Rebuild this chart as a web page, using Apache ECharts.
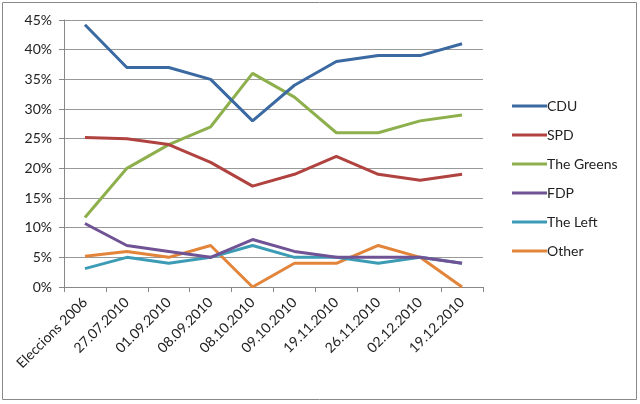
<!DOCTYPE html>
<html>
<head>
<meta charset="utf-8">
<script src="https://cdn.jsdelivr.net/npm/echarts@6/dist/echarts.min.js"></script>
<style>
  html, body { margin: 0; padding: 0; background: #fff; }
  #chart { width: 640px; height: 404px; }
</style>
</head>
<body>
<div id="chart"></div>
<script>
var categories = ['Eleccions 2006', '27.07.2010', '01.09.2010', '08.09.2010', '08.10.2010',
                  '09.10.2010', '19.11.2010', '26.11.2010', '02.12.2010', '19.12.2010'];
var cdu    = [44.2, 37, 37, 35, 28, 34, 38, 39, 39, 41];
var spd    = [25.2, 25, 24, 21, 17, 19, 22, 19, 18, 19];
var greens = [11.7, 20, 24, 27, 36, 32, 26, 26, 28, 29];
var fdp    = [10.7, 7, 6, 5, 8, 6, 5, 5, 5, 4];
var left   = [3.1, 5, 4, 5, 7, 5, 5, 4, 5, 4];
var other  = [5.2, 6, 5, 7, 0, 4, 4, 7, 5, 0];

var names = ['CDU', 'SPD', 'The Greens', 'FDP', 'The Left', 'Other'];
var values = [cdu, spd, greens, fdp, left, other];
var colors = ['#3B69A2', '#B0433F', '#8DAF4C', '#6F5394', '#3D9CB5', '#E2853B'];

var font = 'Lato, "Open Sans", sans-serif';

var series = [];
for (var i = 0; i < names.length; i++) {
    series.push({
        name: names[i],
        type: 'line',
        symbol: 'none',
        data: values[i],
        lineStyle: { width: 3, color: colors[i] },
        itemStyle: { color: colors[i] },
        z: 10 - i
    });
}

var chart = echarts.init(document.getElementById('chart'), null, { renderer: 'canvas' });
chart.setOption({
    animation: false,
    color: colors,
    graphic: [{
        type: 'rect',
        shape: { x: 2.5, y: 2.5, width: 634, height: 397 },
        style: { fill: 'none', stroke: '#888', lineWidth: 1 }
    }],
    grid: { left: 64, right: 157, top: 20, bottom: 117 },
    legend: {
        orient: 'vertical',
        left: 507,
        top: 93,
        itemGap: 13,
        itemWidth: 35,
        itemHeight: 3,
        icon: 'rect',
        data: names,
        textStyle: { fontFamily: font, fontSize: 14, lineHeight: 16, color: '#222', padding: [0, 0, 0, -5] }
    },
    xAxis: {
        type: 'category',
        data: categories,
        boundaryGap: true,
        axisLine: { lineStyle: { color: '#888' } },
        axisTick: { show: true, length: 5, lineStyle: { color: '#888' } },
        axisLabel: {
            rotate: 45,
            interval: 0,
            margin: 13,
            fontFamily: font,
            fontSize: 14,
            color: '#222'
        }
    },
    yAxis: {
        type: 'value',
        min: 0,
        max: 45,
        interval: 5,
        axisLine: { show: true, lineStyle: { color: '#888' } },
        axisTick: { show: true, length: 5, lineStyle: { color: '#888' } },
        splitLine: { lineStyle: { color: '#999' } },
        axisLabel: {
            formatter: '{value}%',
            margin: 12,
            fontFamily: font,
            fontSize: 14,
            color: '#222'
        }
    },
    series: series
});
</script>
</body>
</html>
